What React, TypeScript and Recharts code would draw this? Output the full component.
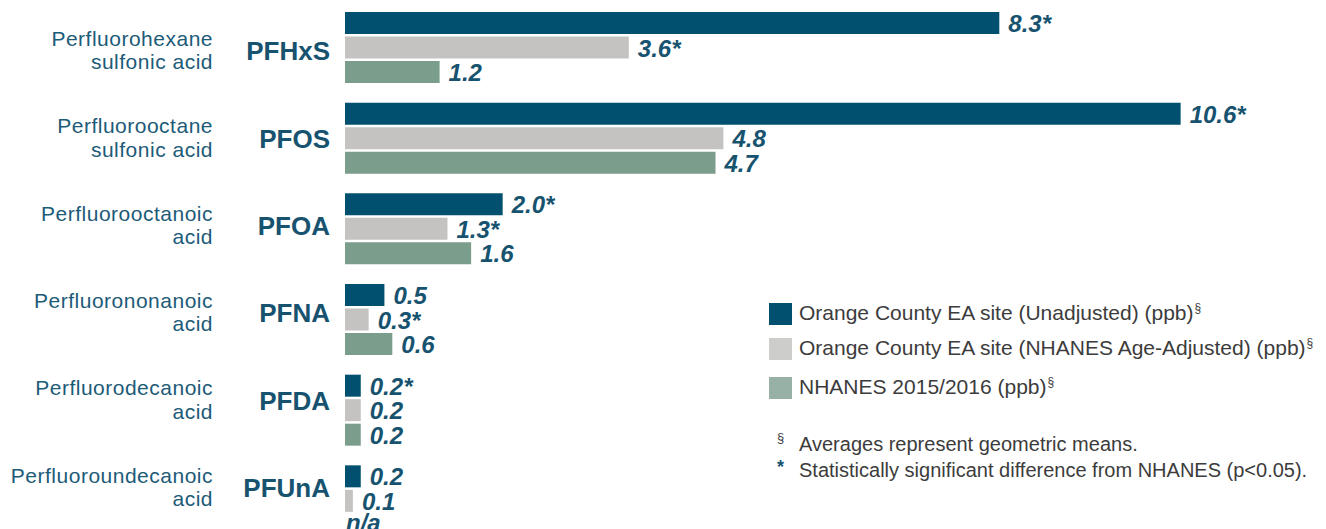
import { BarChart, Bar, XAxis, YAxis, LabelList, Legend } from "recharts";

// PFAS blood levels, Orange County EA site vs NHANES (ppb)
const compounds = ["PFHxS", "PFOS", "PFOA", "PFNA", "PFDA", "PFUnA"];
const fullNames = [
  ["Perfluorohexane", "sulfonic acid"],
  ["Perfluorooctane", "sulfonic acid"],
  ["Perfluorooctanoic", "acid"],
  ["Perfluorononanoic", "acid"],
  ["Perfluorodecanoic", "acid"],
  ["Perfluoroundecanoic", "acid"],
];
const unadjusted = [8.3, 10.6, 2.0, 0.5, 0.2, 0.2];
const ageAdjusted = [3.6, 4.8, 1.3, 0.3, 0.2, 0.1];
const nhanes = [1.2, 4.7, 1.6, 0.6, 0.2, null];
// * = statistically significant difference from NHANES
const unadjustedSig = [true, true, true, false, true, false];
const ageAdjustedSig = [true, false, true, true, false, false];

const seriesNames = [
  "Orange County EA site (Unadjusted) (ppb)",
  "Orange County EA site (NHANES Age-Adjusted) (ppb)",
  "NHANES 2015/2016 (ppb)",
];
const footnotes = [
  { mark: "§", text: "Averages represent geometric means." },
  { mark: "*", text: "Statistically significant difference from NHANES (p<0.05)." },
];

const FONT = "'Liberation Sans', Arial, Helvetica, sans-serif";
const TEAL_TEXT = "#17536f";
const barColors = ["#02506f", "#c4c3c1", "#7b9e8c"];
const swatchColors = ["#02506f", "#cdcdcc", "#97b1a6"];

const fmt = (v: number | null, sig?: boolean) =>
  v == null ? "n/a" : v.toFixed(1) + (sig ? "*" : "");

// missing values get a zero-length bar so the "n/a" label still shows
const chartData = compounds.map((abbr, i) => ({
  abbr,
  unadjusted: unadjusted[i],
  ageAdjusted: ageAdjusted[i],
  nhanes: nhanes[i] ?? 0,
  unadjustedLabel: fmt(unadjusted[i], unadjustedSig[i]),
  ageAdjustedLabel: fmt(ageAdjusted[i], ageAdjustedSig[i]),
  nhanesLabel: fmt(nhanes[i]),
}));

const CompoundTick = (props: any) => {
  const { x, y, index } = props;
  const base = y + 13 - 3.3 * index;
  const names = fullNames[index] || [];
  return (
    <g>
      <text
        x={x - 15}
        y={base}
        textAnchor="end"
        fontFamily={FONT}
        fontWeight="bold"
        fontSize={26}
        fill={TEAL_TEXT}
      >
        {compounds[index]}
      </text>
      <text
        x={x - 132}
        y={base - 14.5}
        textAnchor="end"
        fontFamily={FONT}
        fontSize={21}
        letterSpacing={0.5}
        fill="#1d5b78"
      >
        {names[0]}
      </text>
      <text
        x={x - 132}
        y={base + 9}
        textAnchor="end"
        fontFamily={FONT}
        fontSize={21}
        letterSpacing={0.5}
        fill="#1d5b78"
      >
        {names[1]}
      </text>
    </g>
  );
};

const ValueLabel = (props: any) => {
  const { x, y, width, height, value } = props;
  const isNA = value === "n/a";
  const cy = Number(y) + Number(height) / 2 + (isNA ? 6 : 9);
  return (
    <text
      x={isNA ? Number(x) + 1 : Number(x) + Number(width) + 9}
      y={cy}
      fontFamily={FONT}
      fontWeight="bold"
      fontStyle="italic"
      fontSize={24}
      fill={TEAL_TEXT}
    >
      {value}
    </text>
  );
};

const LegendBox = () => (
  <div style={{ fontFamily: FONT, color: "#3c3c3c", fontSize: 21 }}>
    {seriesNames.map((name, i) => (
      <div
        key={name}
        style={{
          display: "flex",
          alignItems: "center",
          height: 22,
          lineHeight: "22px",
          marginTop: i === 0 ? 0 : i === 1 ? 13 : 17,
          whiteSpace: "nowrap",
        }}
      >
        <span style={{ display: "inline-block", width: 23, height: 22, background: swatchColors[i], marginRight: 7, marginLeft: 1 }} />
        <span>
          {name}
          <span style={{ fontSize: 12, position: "relative", top: -8, marginLeft: 1 }}>§</span>
        </span>
      </div>
    ))}
    <div style={{ marginTop: 32 }}>
      {footnotes.map((f) => (
        <div key={f.text} style={{ fontSize: 20, lineHeight: "26px", whiteSpace: "nowrap", display: "flex" }}>
          <span
            style={
              f.mark === "*"
                ? { width: 31, paddingLeft: 9, boxSizing: "border-box", color: TEAL_TEXT, fontWeight: "bold", fontSize: 18, position: "relative", top: -3 }
                : { width: 31, paddingLeft: 9, boxSizing: "border-box", fontSize: 13, position: "relative", top: -6 }
            }
          >
            {f.mark}
          </span>
          <span>{f.text}</span>
        </div>
      ))}
    </div>
  </div>
);

export default function App() {
  return (
    <div style={{ position: "absolute", left: 0, top: 0, width: 1326, height: 529, overflow: "hidden", background: "#fff" }}>
      <BarChart
        width={1326}
        height={560}
        data={chartData}
        layout="vertical"
        margin={{ top: 2, right: 35, bottom: 14, left: 0 }}
        barSize={22}
        barGap={2.5}
      >
        <XAxis type="number" domain={[0, 12]} hide />
        <YAxis
          type="category"
          dataKey="abbr"
          width={345}
          axisLine={false}
          tickLine={false}
          tickSize={0}
          tickMargin={0}
          interval={0}
          tick={<CompoundTick />}
        />
        <Legend
          layout="horizontal"
          align="center"
          verticalAlign="middle"
          content={<LegendBox />}
          wrapperStyle={{ left: 768, top: 303, width: 558, height: 200 }}
        />
        <Bar dataKey="unadjusted" name={seriesNames[0]} fill={barColors[0]} isAnimationActive={false}>
          <LabelList dataKey="unadjustedLabel" content={<ValueLabel />} />
        </Bar>
        <Bar dataKey="ageAdjusted" name={seriesNames[1]} fill={barColors[1]} isAnimationActive={false}>
          <LabelList dataKey="ageAdjustedLabel" content={<ValueLabel />} />
        </Bar>
        <Bar dataKey="nhanes" name={seriesNames[2]} fill={barColors[2]} minPointSize={0.01} isAnimationActive={false}>
          <LabelList dataKey="nhanesLabel" content={<ValueLabel />} />
        </Bar>
      </BarChart>
    </div>
  );
}
